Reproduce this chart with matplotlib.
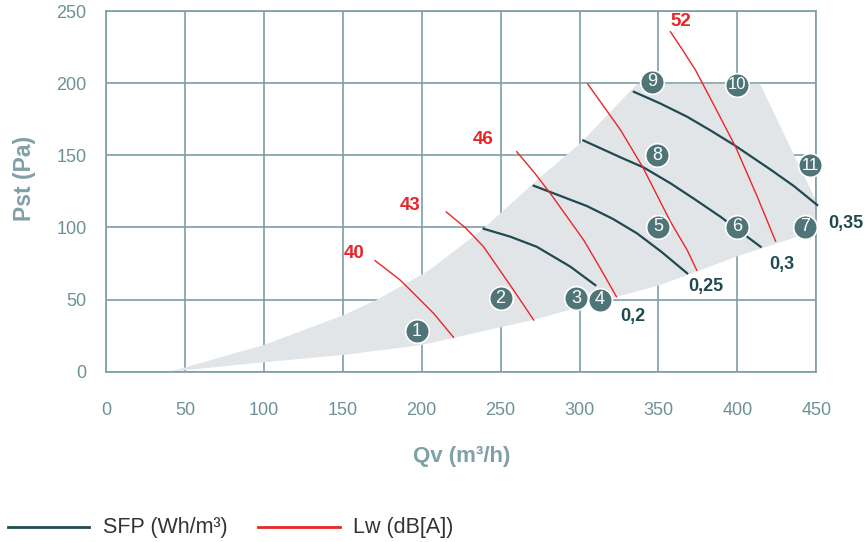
import matplotlib
matplotlib.use('Agg')
import matplotlib.pyplot as plt

plt.rcParams['font.family'] = ['Liberation Sans', 'DejaVu Sans']

# ---- data ----
x_ticks = [0, 50, 100, 150, 200, 250, 300, 350, 400, 450]
y_ticks = [0, 50, 100, 150, 200, 250]

# operating envelope (grey area)
upper_x = [40.6, 100, 150, 172, 205, 239, 273, 300.5, 336.5, 414.3, 450.6]
upper_y = [0, 18.5, 39, 50, 70.5, 99, 132.8, 158.3, 199.5, 199.5, 116.7]
lower_x = [450.6, 400, 351, 324, 271, 200, 150, 100, 40.6]
lower_y = [98, 80, 60, 52, 36, 18.5, 11.6, 6.5, 0]

# SFP curves (Wh/m3)
sfp_labels = ['0,2', '0,25', '0,3', '0,35']
sfp_x = [
    [239.2, 256.1, 272.9, 294.2, 310],
    [271, 288, 304.7, 321, 336.4, 352, 368.2],
    [302.4, 325.9, 340.7, 357.6, 373, 389.3, 414.7],
    [334.4, 351, 368.2, 383, 398, 421.4, 436, 450.6],
]
sfp_y = [
    [99.1, 93.6, 86.6, 72.8, 60],
    [128.9, 121.8, 114.8, 106, 95.9, 83, 68.2],
    [160.3, 148.6, 141.5, 130.6, 119.5, 107.4, 86.6],
    [194, 186, 176.7, 167.2, 157.1, 139.8, 128.5, 115.5],
]
sfp_label_pos = [(334, 38), (380, 59), (428, 74), (469, 103)]

# Lw curves (dB[A])
lw_labels = ['40', '43', '46', '', '52']
lw_x = [
    [170.5, 186.4, 192.8, 207.5, 220.2],
    [215.6, 228, 239.2, 258.2, 271],
    [260.2, 271, 281.5, 302.6, 313, 323.4],
    [305.2, 326, 340.2, 357.6, 368.2, 374.3],
    [357.6, 365, 373.5, 386, 398.8, 412.6, 424.2],
]
lw_y = [
    [77, 63.5, 56.6, 40.5, 23.8],
    [110.7, 99.5, 86.6, 56.6, 35.8],
    [152.5, 138.5, 123.6, 91.3, 72, 52],
    [199.4, 167.5, 141.5, 104, 84.3, 70.3],
    [235.6, 223.5, 209, 183, 156, 121.3, 90.5],
]
lw_label_pos = [(157, 82), (193, 115), (239, 161), None, (364, 243)]

# numbered operating points
pt_num = ['1', '2', '3', '4', '5', '6', '7', '8', '9', '10', '11']
pt_x = [197, 250, 298, 313, 350, 400, 443, 349, 346, 400, 446]
pt_y = [28, 51, 51, 50, 100.5, 100.5, 100.5, 150, 201, 199, 143]

grid_col = '#7d9ea3'
tick_col = '#6e9196'
label_col = '#7fa0a6'
sfp_col = '#1f4a50'
lw_col = '#e8262a'
pt_col = '#4f7579'

fig = plt.figure(figsize=(8.65, 5.42), dpi=100)
ax = fig.add_axes([0.1225, 0.3142, 0.8212, 0.6655])

ax.set_xlim(0, 450)
ax.set_ylim(0, 250)
ax.set_xticks(x_ticks)
ax.set_yticks(y_ticks)
ax.grid(True, color=grid_col, linewidth=1.2, zorder=0)
ax.set_axisbelow(True)
for s in ax.spines.values():
    s.set_color(grid_col)
    s.set_linewidth(1.2)
ax.tick_params(length=0, colors=tick_col, labelsize=13)
ax.tick_params(axis='y', pad=14)
ax.tick_params(axis='x', pad=22)

ax.fill(upper_x + lower_x, upper_y + lower_y, color='#e1e5e8', lw=0, zorder=1)

for xs, ys in zip(sfp_x, sfp_y):
    ax.plot(xs, ys, color=sfp_col, lw=1.6, zorder=3, clip_on=False,
            solid_joinstyle='round')
for lab, (tx, ty) in zip(sfp_labels, sfp_label_pos):
    ax.text(tx, ty, lab, color=sfp_col, fontsize=13, fontweight='bold',
            ha='center', va='center', clip_on=False, zorder=5)

for xs, ys in zip(lw_x, lw_y):
    ax.plot(xs, ys, color=lw_col, lw=1.0, zorder=3, clip_on=False,
            solid_joinstyle='round')
for lab, pos in zip(lw_labels, lw_label_pos):
    if pos is None:
        continue
    ax.text(pos[0], pos[1], lab, color=lw_col, fontsize=13.5, fontweight='bold',
            ha='center', va='center', zorder=5)

ax.scatter(pt_x, pt_y, s=290, color=pt_col, edgecolors='white', linewidths=1.2,
           zorder=6, clip_on=False)
for n, px, py in zip(pt_num, pt_x, pt_y):
    ax.text(px, py, n, color='white', fontsize=13 if len(n) == 1 else 12,
            ha='center', va='center', zorder=7)

ax.set_ylabel('Pst (Pa)', color=label_col, fontsize=16.5, fontweight='bold')
ax.yaxis.set_label_coords(-0.098, 0.535)
ax.set_xlabel('Qv (m³/h)', color=label_col, fontsize=16, fontweight='bold')
ax.xaxis.set_label_coords(0.501, -0.206)

# legend drawn below the chart
ly = 1 - 527 / 542
fig.add_artist(plt.Line2D([8 / 865, 89 / 865], [ly, ly], color=sfp_col, lw=2))
fig.text(103 / 865, ly, 'SFP (Wh/m³)', fontsize=15.5, color='#333333', va='center')
fig.add_artist(plt.Line2D([258 / 865, 340 / 865], [ly, ly], color=lw_col, lw=2))
fig.text(353 / 865, ly, 'Lw (dB[A])', fontsize=15.5, color='#333333', va='center')

fig.savefig('out.png', dpi=100)
